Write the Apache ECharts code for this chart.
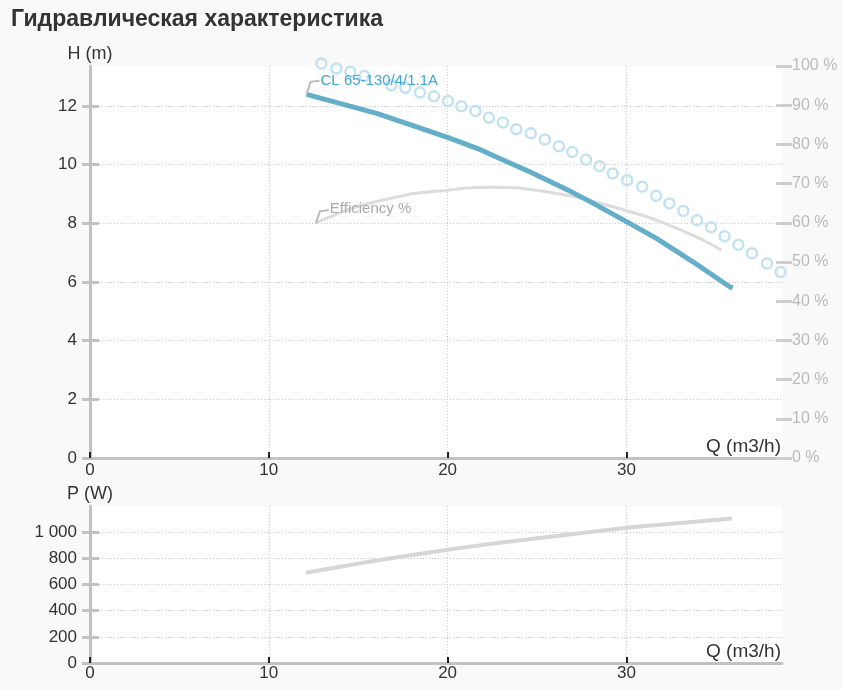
<!DOCTYPE html>
<html>
<head>
<meta charset="utf-8">
<script src="https://cdn.jsdelivr.net/npm/echarts@6/dist/echarts.min.js"></script>
<style>
html,body{margin:0;padding:0;background:#f9f9f9;}
#c{width:843px;height:690px;}
</style>
</head>
<body>
<div id="c"></div>
<script>
// ---- data ----
const titleText = 'Гидравлическая характеристика';
const seriesName = 'CL 65-130/4/1.1A';
const effName = 'Efficiency %';
const xTicks = [0, 10, 20, 30];
const hTicks = [0, 2, 4, 6, 8, 10, 12];
const pTicks = [0, 200, 400, 600, 800, 1000];

// Head curve Q (m3/h) -> H (m)
const headCurve = [
  [12.11, 12.40], [13.97, 12.09], [16.03, 11.75], [18.35, 11.27], [20.03, 10.92],
  [21.80, 10.52], [22.92, 10.21], [24.59, 9.76], [26.83, 9.10], [27.95, 8.75],
  [30.00, 8.06], [31.68, 7.49], [33.72, 6.69], [35.77, 5.84], [35.94, 5.80]
];
// Dotted (ring) curve Q -> H
const ringCurve = [
  [12.94, 13.45], [13.78, 13.28], [14.56, 13.17], [15.35, 13.02],
  [16.85, 12.71], [17.64, 12.62], [18.45, 12.46], [19.23, 12.33], [20.02, 12.17],
  [20.77, 11.99], [21.55, 11.83], [22.31, 11.60], [23.09, 11.44], [23.84, 11.21],
  [24.65, 11.07], [25.44, 10.86], [26.22, 10.63], [26.97, 10.43], [27.74, 10.17],
  [28.49, 9.95], [29.23, 9.70], [30.04, 9.47], [30.88, 9.25], [31.66, 8.94],
  [32.40, 8.68], [33.18, 8.42], [33.95, 8.11], [34.73, 7.87], [35.49, 7.56],
  [36.26, 7.27], [37.02, 6.98], [37.86, 6.63], [38.62, 6.34]
];
// Efficiency Q -> %
const effCurve = [
  [12.63, 60.0], [13.42, 61.5], [14.9, 64.1], [17.9, 67.3], [20.0, 68.3],
  [21.0, 68.9], [22.5, 69.1], [24.0, 68.9], [26.8, 66.9], [29.25, 64.1],
  [31.68, 60.7], [34.1, 56.0], [35.31, 53.0]
];
// Power Q -> P (W)
const powerCurve = [
  [12.07, 690], [14.0, 735], [15.65, 775], [18.0, 825], [20.0, 866], [22.0, 903],
  [25.15, 956], [30.0, 1033], [33.5, 1076], [35.9, 1105]
];

const FONT = 'Liberation Sans, Arial, sans-serif';
const AX = '#c2c2c2';
const GRIDC = '#c8c8c8';

function fmtThousand(v){
  const s = String(v);
  return s.length > 3 ? s.slice(0, s.length-3) + ' ' + s.slice(-3) : s;
}

function xAxisCfg(gi, labelMargin){
  return {
    type: 'value', gridIndex: gi, min: 0, max: 38.7,
    name: 'Q (m3/h)', nameLocation: 'end', nameGap: -1,
    nameTextStyle: {fontSize: 19, color: '#333', fontFamily: FONT, align: 'right', verticalAlign: 'bottom', padding: [0,0,2,0]},
    axisLine: {show: true, lineStyle: {color: AX, width: 3}},
    axisTick: {show: true, inside: true, length: 6, lineStyle: {color: '#222', width: 2}, customValues: xTicks},
    axisLabel: {show: true, customValues: xTicks, margin: labelMargin, fontSize: 17, color: '#333', fontFamily: FONT},
    splitLine: {show: true, lineStyle: {color: GRIDC, type: [1, 2], width: 1}}
  };
}

function leftAxisCfg(gi, max, ticks, name, fmt){
  return {
    type: 'value', gridIndex: gi, position: 'left', min: 0, max: max,
    name: name, nameLocation: 'end', nameGap: 3,
    nameTextStyle: {fontSize: 18, color: '#333', fontFamily: FONT, align: 'center'},
    axisLine: {show: true, lineStyle: {color: AX, width: 3}},
    axisTick: {show: true, inside: false, length: 8, lineStyle: {color: AX, width: 3}, customValues: ticks},
    axisLabel: {show: true, customValues: ticks, margin: 13, fontSize: 17, color: '#333', fontFamily: FONT,
                padding: [0,0,10,0], formatter: fmt},
    splitLine: {show: true, lineStyle: {color: GRIDC, type: [1, 2], width: 1}}
  };
}
function leftInnerTicks(gi, max, ticks){
  return {
    type: 'value', gridIndex: gi, position: 'left', min: 0, max: max,
    axisLine: {show: false},
    axisTick: {show: true, inside: true, length: 9, lineStyle: {color: AX, width: 3}, customValues: ticks},
    axisLabel: {show: false},
    splitLine: {show: false}
  };
}

const chart = echarts.init(document.getElementById('c'), null, {renderer: 'canvas'});
const option = {
  animation: false,
  backgroundColor: '#f9f9f9',
  title: {
    text: titleText, left: 6, top: 3,
    textStyle: {fontSize: 23, fontWeight: 'bold', color: '#333', fontFamily: FONT}
  },
  grid: [
    {left: 90, right: 61, top: 66, bottom: 232, show: true, backgroundColor: '#fff', borderWidth: 0},
    {left: 90, right: 61, top: 506, bottom: 27, show: true, backgroundColor: '#fff', borderWidth: 0}
  ],
  xAxis: [xAxisCfg(0, 4), xAxisCfg(1, 2)],
  yAxis: [
    leftAxisCfg(0, 392/29.33, hTicks, 'H (m)', null),
    leftInnerTicks(0, 392/29.33, hTicks),
    {
      type: 'value', gridIndex: 0, position: 'right', offset: -6, min: 0, max: 100, interval: 10,
      axisLine: {show: false},
      axisTick: {show: true, length: 16, lineStyle: {color: '#cfcfcf', width: 3}},
      axisLabel: {show: true, margin: 16, fontSize: 16, color: '#bbb', fontFamily: FONT,
                  formatter: '{value} %', padding: [0,0,10,0]},
      splitLine: {show: false}
    },
    leftAxisCfg(1, 1200, pTicks, 'P (W)', fmtThousand),
    leftInnerTicks(1, 1200, pTicks)
  ],
  series: [
    {
      name: effName, type: 'line', xAxisIndex: 0, yAxisIndex: 2, data: effCurve,
      showSymbol: false, smooth: 0.2, clip: false, z: 2,
      lineStyle: {color: '#dcdcdc', width: 3}
    },
    {
      name: 'rings', type: 'line', xAxisIndex: 0, yAxisIndex: 0, data: ringCurve,
      symbol: 'circle', symbolSize: 10, showSymbol: true, showAllSymbol: true, clip: false, z: 3,
      itemStyle: {color: 'rgba(255,255,255,0)', borderColor: '#c2e2f2', borderWidth: 2.5},
      lineStyle: {width: 0, opacity: 0}
    },
    {
      name: seriesName, type: 'line', xAxisIndex: 0, yAxisIndex: 0, data: headCurve,
      showSymbol: false, smooth: false, clip: false, z: 4,
      lineStyle: {color: '#64aec9', width: 5}
    },
    {
      name: 'P', type: 'line', xAxisIndex: 1, yAxisIndex: 3, data: powerCurve,
      showSymbol: false, smooth: false, clip: false, z: 2,
      lineStyle: {color: '#d6d6d6', width: 4}
    }
  ]
};
chart.setOption(option);

// leader labels anchored to the first points of the series
const hp = chart.convertToPixel({xAxisIndex: 0, yAxisIndex: 0}, headCurve[0]);
const ep = chart.convertToPixel({xAxisIndex: 0, yAxisIndex: 2}, effCurve[0]);
chart.setOption({
  graphic: [
    {type: 'polyline', z: 10, shape: {points: [[hp[0], hp[1]], [hp[0]+4, hp[1]-12.5], [hp[0]+13, hp[1]-13.5]]},
     style: {stroke: '#bbb', lineWidth: 2, fill: null}},
    {type: 'text', z: 10, x: hp[0]+14, y: hp[1]-13.5,
     style: {text: seriesName, fill: '#3ea6d8', font: '15px ' + FONT, verticalAlign: 'middle'}},
    {type: 'polyline', z: 10, shape: {points: [[ep[0], ep[1]], [ep[0]+4, ep[1]-11.5], [ep[0]+13, ep[1]-12.7]]},
     style: {stroke: '#bbb', lineWidth: 2, fill: null}},
    {type: 'text', z: 10, x: ep[0]+14, y: ep[1]-13.5,
     style: {text: effName, fill: '#aaa', font: '15px ' + FONT, verticalAlign: 'middle'}}
  ]
});
</script>
</body>
</html>
